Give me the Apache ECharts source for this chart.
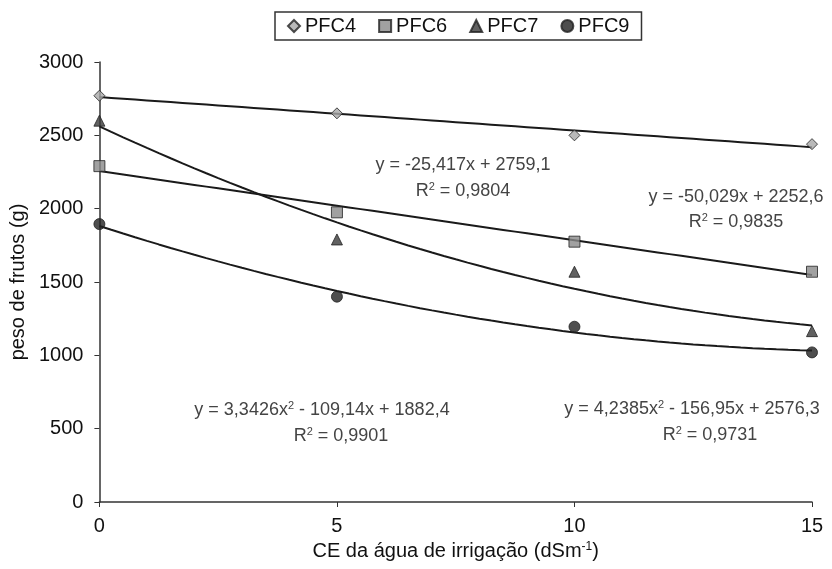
<!DOCTYPE html>
<html><head><meta charset="utf-8">
<script src="https://cdn.jsdelivr.net/npm/echarts/dist/echarts.min.js"></script>
<style>html,body{margin:0;padding:0;background:#fff}#c{width:832px;height:569px}</style>
</head><body><div id="c"></div>
<script>
// CE da água de irrigação (dS m-1)
const ceLevels = [0, 5, 10, 15];
// peso de frutos (g)
const pfc4 = [2770, 2650, 2500, 2440];
const pfc6 = [2290, 1975, 1775, 1570];
const pfc7 = [2600, 1790, 1570, 1165];
const pfc9 = [1895, 1400, 1195, 1020];
const seriesNames = ['PFC4', 'PFC6', 'PFC7', 'PFC9'];
const trendDegree = [1, 1, 2, 2];
const yTicks = [0, 500, 1000, 1500, 2000, 2500, 3000];
const xTicks = [0, 5, 10, 15];
const eqLabels = [
  ['y = -25,417x + 2759,1', 'R{s|2} = 0,9804'],
  ['y = -50,029x + 2252,6', 'R{s|2} = 0,9835'],
  ['y = 4,2385x{s|2} - 156,95x + 2576,3', 'R{s|2} = 0,9731'],
  ['y = 3,3426x{s|2} - 109,14x + 1882,4', 'R{s|2} = 0,9901']
];

const allValues = [pfc4, pfc6, pfc7, pfc9];

// least-squares polynomial fit (trendline as Excel draws it from the points)
function polyfit(xs, ys, deg) {
  const m = deg + 1;
  const A = [];
  for (let i = 0; i < m; i++) {
    A.push([]);
    for (let j = 0; j < m; j++) {
      let s = 0;
      for (let k = 0; k < xs.length; k++) s += Math.pow(xs[k], i + j);
      A[i].push(s);
    }
    let b = 0;
    for (let k = 0; k < xs.length; k++) b += ys[k] * Math.pow(xs[k], i);
    A[i].push(b);
  }
  for (let c = 0; c < m; c++) {
    let p = c;
    for (let r = c + 1; r < m; r++) if (Math.abs(A[r][c]) > Math.abs(A[p][c])) p = r;
    [A[c], A[p]] = [A[p], A[c]];
    for (let r = 0; r < m; r++) {
      if (r === c) continue;
      const f = A[r][c] / A[c][c];
      for (let k = c; k <= m; k++) A[r][k] -= f * A[c][k];
    }
  }
  return A.map((row, i) => row[m] / row[i]);
}
function trend(xs, ys, deg) {
  const coef = polyfit(xs, ys, deg);
  const pts = [];
  const x0 = xs[0], x1 = xs[xs.length - 1];
  const n = 60;
  for (let i = 0; i <= n; i++) {
    const x = x0 + (x1 - x0) * i / n;
    let y = 0;
    coef.forEach((c, p) => { y += c * Math.pow(x, p); });
    pts.push([x, y]);
  }
  return pts;
}

const symbols = ['diamond', 'rect', 'triangle', 'circle'];
const fills = ['#a8a8a8', '#8a8a8a', '#3a3a3a', '#222'];
const sizes = [11, 11, 11, 11];
const FONT = 'Liberation Sans, Arial, sans-serif';

const series = [];
allValues.forEach((vals, i) => {
  series.push({
    name: seriesNames[i] + ' tendência',
    type: 'line',
    data: trend(ceLevels, vals, trendDegree[i]),
    showSymbol: false,
    smooth: false,
    lineStyle: { color: '#1a1a1a', width: 2 },
    silent: true,
    z: 2
  });
});
allValues.forEach((vals, i) => {
  series.push({
    name: seriesNames[i],
    type: 'scatter',
    data: ceLevels.map((x, k) => [x, vals[k]]),
    symbol: symbols[i],
    symbolSize: sizes[i],
    itemStyle: { color: fills[i], borderColor: '#222', borderWidth: 1 },
    z: 3
  });
});

const eqPos = [[463, 165, 463, 191], [736, 197, 736, 222], [692, 409, 710, 435], [322, 410, 341, 436]];
const graphics = [];
eqLabels.forEach((lines, i) => {
  lines.forEach((t, j) => {
    graphics.push({
      type: 'text',
      x: eqPos[i][j * 2],
      y: eqPos[i][j * 2 + 1],
      style: {
        text: t,
        align: 'center',
        verticalAlign: 'middle',
        fontFamily: FONT,
        fontSize: 18,
        fill: '#444',
        rich: { s: { fontSize: 11, fill: '#444', padding: [0, 0, 9, 0], fontFamily: FONT } }
      }
    });
  });
});

const chart = echarts.init(document.getElementById('c'), null, { renderer: 'canvas' });
chart.setOption({
  animation: false,
  backgroundColor: '#fff',
  grid: { left: 98, right: 20, top: 62, bottom: 67, containLabel: false },
  legend: {
    data: seriesNames,
    left: 275,
    top: 12,
    padding: [4, 12],
    itemGap: 22,
    itemWidth: 12,
    itemHeight: 12,
    borderColor: '#333',
    borderWidth: 1.5,
    textStyle: { fontFamily: FONT, fontSize: 20, color: '#111' }
  },
  xAxis: {
    type: 'value',
    min: xTicks[0],
    max: xTicks[xTicks.length - 1],
    interval: 5,
    name: 'CE da água de irrigação (dSm{s|-1})',
    nameLocation: 'middle',
    nameGap: 38,
    nameTextStyle: { fontFamily: FONT, fontSize: 20, color: '#111',
      rich: { s: { fontSize: 12, color: '#111', padding: [0, 0, 10, 0], fontFamily: FONT } } },
    axisLine: { lineStyle: { color: '#333', width: 1.5 } },
    axisTick: { show: true, length: 5, lineStyle: { color: '#333' } },
    axisLabel: { fontFamily: FONT, fontSize: 20, color: '#111', margin: 14, formatter: v => String(v) },
    splitLine: { show: false }
  },
  yAxis: {
    type: 'value',
    min: yTicks[0],
    max: yTicks[yTicks.length - 1],
    interval: 500,
    name: 'peso de frutos (g)',
    nameLocation: 'middle',
    nameGap: 70,
    nameTextStyle: { fontFamily: FONT, fontSize: 20, color: '#111' },
    axisLine: { show: true, lineStyle: { color: '#333', width: 1.5 } },
    axisTick: { show: true, length: 5, lineStyle: { color: '#333' } },
    axisLabel: { fontFamily: FONT, fontSize: 20, color: '#111', margin: 16, formatter: v => String(v) },
    splitLine: { show: false }
  },
  graphic: graphics,
  series: series
});
</script>
</body></html>
